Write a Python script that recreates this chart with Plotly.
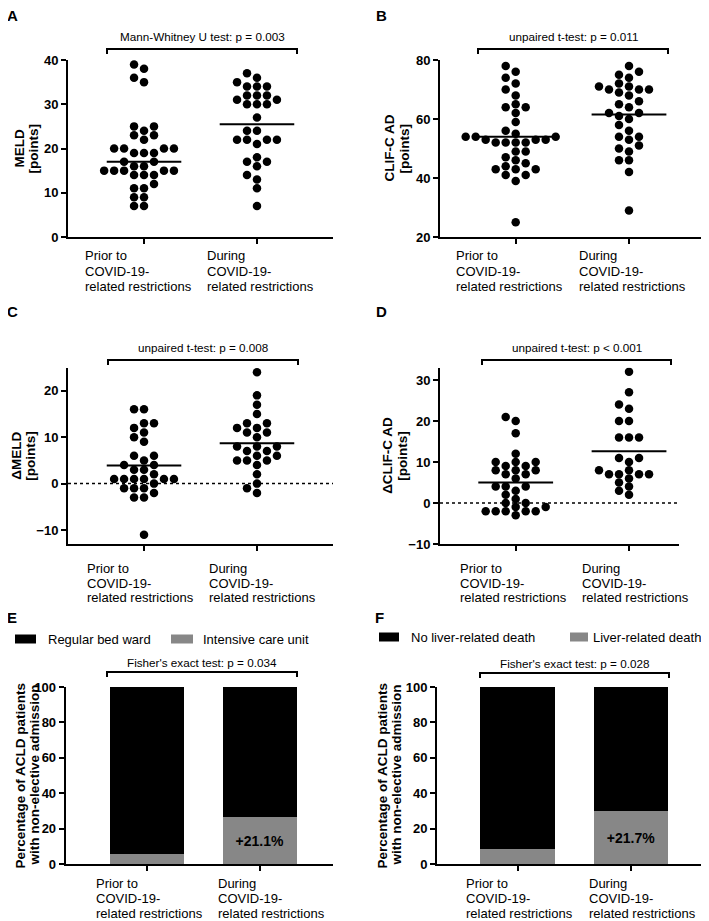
import plotly.graph_objects as go

# the page body has an 8px margin, so the figure is drawn at (8, 8)
PAGE_OFF = 8
W, H = 709 - PAGE_OFF, 921 - PAGE_OFF
FONT = 'Liberation Sans, Arial, sans-serif'
GREY = '#878787'

group_lines = [['Prior to', 'COVID-19-', 'related restrictions'],
               ['During', 'COVID-19-', 'related restrictions']]

# A: MELD (points)
meld_prior = [39, 38, 36, 35, 25, 25, 24, 23, 23, 22, 20, 20, 20, 20, 19, 19, 19, 17, 17, 16,
              16, 15, 15, 15, 15, 15, 14, 14, 14, 12, 11, 11, 9, 9, 7, 7]
meld_during = [37, 36, 35, 34, 34, 34, 32, 32, 32, 31, 31, 30, 30, 30, 27, 24, 24, 22, 22, 22,
               22, 21, 18, 17, 17, 16, 14, 13, 11, 7]
meld_center = [17, 25.5]

# B: CLIF-C AD (points)
clif_prior = [78, 76, 74, 72, 70, 68, 65, 64, 64, 62, 59, 56, 55, 54, 54, 54, 53, 53, 53, 52,
              52, 52, 52, 49, 49, 47, 46, 45, 44, 43, 43, 43, 41, 41, 39, 25]
clif_during = [78, 76, 75, 74, 72, 71, 71, 70, 70, 70, 69, 68, 66, 65, 64, 62, 62, 61, 60, 58,
               56, 54, 54, 53, 51, 50, 49, 46, 46, 42, 29]
clif_center = [54, 61.5]

# C: delta MELD
dmeld_prior = [16, 16, 13, 13, 12, 11, 10, 9, 6, 6, 5, 4, 4, 3, 3, 2, 1, 1, 1, 1, 1, 1, 0,
               -1, -1, -1, -2, -3, -3, -11]
dmeld_during = [24, 19, 17, 15, 13, 13, 12, 12, 11, 11, 10, 8, 8, 8, 7, 7, 6, 6, 5, 5, 5, 4,
                2, 0, -1, -2]
dmeld_center = [3.9, 8.7]

# D: delta CLIF-C AD
dclif_prior = [21, 20, 17, 12, 10, 10, 10, 9, 9, 8, 8, 8, 7, 7, 6, 4, 4, 4, 3, 2, 1, 0, 0,
               -1, -1, -2, -2, -2, -2, -2, -3]
dclif_during = [32, 27, 24, 23, 20, 20, 16, 16, 16, 11, 11, 10, 8, 8, 7, 7, 7, 7, 6, 5, 4, 3, 2]
dclif_center = [5.0, 12.6]

# E / F: percentages
icu_pct = [5.6, 26.7]
liver_death_pct = [8.3, 30.0]


def px(x):
    return (x - PAGE_OFF) / W


def py(y):
    return 1 - (y - PAGE_OFF) / H


def swarm(vals, unit_px, s=10.0, near=8.0, cat_px=113.3):
    # dots sit on a lattice (GraphPad-like), rows filled from the bottom up
    best, best_score = None, None
    order = sorted(range(len(vals)), key=lambda i: vals[i])
    for phase in (0.0, 0.5):
        cands = sorted([(k + phase) * s for k in range(-12, 13)], key=lambda c: (abs(c), c))
        placed = []
        xs = [0.0] * len(vals)
        for i in order:
            y = vals[i] * unit_px
            for c in cands:
                if all(not (abs(y - yy) < near and abs(c - xx) < s - 0.01) for yy, xx in placed):
                    break
            placed.append((y, c))
            xs[i] = c
        score = sum(abs(v) for v in xs)
        if best is None or score < best_score - 1e-6:
            best, best_score = xs, score
    return [v / cat_px for v in best]


scatter_panels = [
    dict(letter='A', let_xy=(12, 15), data=(meld_prior, meld_during), center=meld_center,
         box=(68, 333, 60, 237), xr=[-0.673, 1.673], yr=[0, 40], tv=[0, 10, 20, 30, 40],
         ylab=['MELD', '[points]'], ylab_x=(19, 33), lab_x=(83, 205), lab_y=(256, 271, 286),
         test='Mann-Whitney U test: p = 0.003', br=(107, 297, 49, 54), test_y=37),
    dict(letter='B', let_xy=(381, 15), data=(clif_prior, clif_during), center=clif_center,
         box=(440, 704, 60, 237), xr=[-0.668, 1.662], yr=[20, 80], tv=[20, 40, 60, 80],
         ylab=['CLIF-C AD', '[points]'], ylab_x=(389, 404), lab_x=(454, 577), lab_y=(256, 271, 286),
         test='unpaired t-test: p = 0.011', br=(478, 668, 49, 54), test_y=37),
    dict(letter='C', let_xy=(12, 311), data=(dmeld_prior, dmeld_during), center=dmeld_center,
         box=(68, 333, 367.5, 544), xr=[-0.673, 1.673], yr=[-13, 25], tv=[-10, 0, 10, 20],
         ylab=['\u0394MELD', '[points]'], ylab_x=(17, 31), lab_x=(85, 207), lab_y=(568, 583, 597),
         test='unpaired t-test: p = 0.008', br=(108, 298, 360, 365), test_y=347),
    dict(letter='D', let_xy=(381, 311), data=(dclif_prior, dclif_during), center=dclif_center,
         box=(440, 679, 367.7, 544), xr=[-0.668, 1.441], yr=[-10, 33], tv=[-10, 0, 10, 20, 30],
         ylab=['\u0394CLIF-C AD', '[points]'], ylab_x=(388, 403), lab_x=(458, 580), lab_y=(568, 583, 597),
         test='unpaired t-test: p < 0.001', br=(482, 671, 360, 365), test_y=347),
]

bar_panels = [
    dict(letter='E', let_xy=(12, 617), pct=icu_pct, names=['Regular bed ward', 'Intensive care unit'],
         box=(65.7, 333, 687, 864), xr=[-0.715, 1.65],
         leg=((15, 36, 46), (171, 193, 201)), leg_y=639,
         ylab_x=(20, 34), lab_x=(94, 216), lab_y=(883, 898, 913),
         test="Fisher's exact test: p = 0.034", br=(107, 297, 672, 677), test_y=662),
    dict(letter='F', let_xy=(379, 617), pct=liver_death_pct, names=['No liver-related death', 'Liver-related death'],
         box=(437, 709, 687, 864), xr=[-0.712, 1.69],
         leg=((379, 399, 409), (570, 588, 591)), leg_y=637,
         ylab_x=(382, 396), lab_x=(464, 587), lab_y=(883, 898, 913),
         test="Fisher's exact test: p = 0.028", br=(480, 669, 673, 678), test_y=663),
]

fig = go.Figure()
layout = {}
annotations = []
shapes = []


def axis_pair(n, p, tv, yr):
    x0, x1, y0, y1 = p['box']
    sx = '' if n == 1 else str(n)
    layout['xaxis' + sx] = dict(domain=[max(px(x0), 0), min(px(x1), 1)], range=p['xr'], anchor='y' + sx,
                                showline=True, linewidth=2, linecolor='black',
                                ticks='outside', tickvals=[0, 1], ticklen=5, tickwidth=2,
                                tickcolor='black', showticklabels=False, showgrid=False,
                                zeroline=False, fixedrange=True, automargin=False)
    layout['yaxis' + sx] = dict(domain=[py(y1), py(y0)], range=yr, anchor='x' + sx,
                                showline=True, linewidth=2, linecolor='black',
                                ticks='outside', tickvals=tv, ticklen=5, tickwidth=2,
                                tickcolor='black', showgrid=False, zeroline=False,
                                tickfont=dict(family=FONT, size=13, color='black', weight='bold'),
                                fixedrange=True, automargin=False)
    return sx


def common_text(p, ycenter):
    # panel letter
    annotations.append(dict(x=px(p['let_xy'][0]), y=py(p['let_xy'][1]), xref='paper', yref='paper',
                            text='<b>%s</b>' % p['letter'], showarrow=False,
                            xanchor='center', yanchor='middle',
                            font=dict(family=FONT, size=15, color='black')))
    # y-axis title, one annotation per line
    for k, line in enumerate(p['ylab']):
        annotations.append(dict(x=px(p['ylab_x'][k]), y=py(ycenter), xref='paper', yref='paper',
                                text='<b>%s</b>' % line, textangle=-90, showarrow=False,
                                xanchor='center', yanchor='middle',
                                font=dict(family=FONT, size=13.5, color='black')))
    # category labels, left aligned
    for g in range(2):
        for k, line in enumerate(group_lines[g]):
            annotations.append(dict(x=px(p['lab_x'][g]), y=py(p['lab_y'][k]), xref='paper', yref='paper',
                                    text=line, showarrow=False, xanchor='left', yanchor='middle',
                                    font=dict(family=FONT, size=13, color='black')))
    # test bracket
    bx0, bx1, bt, bb = p['br']
    shapes.append(dict(type='path', xref='paper', yref='paper',
                       path='M %f,%f L %f,%f L %f,%f L %f,%f' % (px(bx0), py(bb), px(bx0), py(bt),
                                                                 px(bx1), py(bt), px(bx1), py(bb)),
                       line=dict(color='black', width=2)))
    annotations.append(dict(x=px((bx0 + bx1) / 2), y=py(p['test_y']), xref='paper', yref='paper',
                            text=p['test'], showarrow=False, xanchor='center', yanchor='middle',
                            font=dict(family=FONT, size=11.7, color='black')))


for n, p in enumerate(scatter_panels, start=1):
    sx = axis_pair(n, p, p['tv'], p['yr'])
    x0, x1, y0, y1 = p['box']
    unit_px = (y1 - y0) / (p['yr'][1] - p['yr'][0])
    for g, vals in enumerate(p['data']):
        offs = swarm(vals, unit_px)
        fig.add_trace(go.Scatter(x=[g + o for o in offs], y=vals, mode='markers',
                                 marker=dict(color='black', size=8.5), xaxis='x' + sx, yaxis='y' + sx,
                                 showlegend=False, hoverinfo='y'))
        c = p['center'][g]
        fig.add_trace(go.Scatter(x=[g - 0.33, g + 0.33], y=[c, c], mode='lines',
                                 line=dict(color='black', width=2), xaxis='x' + sx, yaxis='y' + sx,
                                 showlegend=False, hoverinfo='skip'))
    if p['yr'][0] < 0:
        shapes.append(dict(type='line', xref='x%s domain' % sx, yref='y' + sx, x0=0, x1=1, y0=0, y1=0,
                           line=dict(color='black', width=1.5, dash='dot'), layer='below'))
    common_text(p, (y0 + y1) / 2)

for n, p in enumerate(bar_panels, start=5):
    sx = axis_pair(n, p, [0, 20, 40, 60, 80, 100], [0, 100])
    x0, x1, y0, y1 = p['box']
    gray = p['pct']
    black = [100 - v for v in gray]
    diff = gray[1] - gray[0]
    fig.add_trace(go.Bar(x=[0, 1], y=gray, width=0.66, marker=dict(color=GREY, line=dict(width=0)),
                         text=['', '<b>+%.1f%%</b>' % diff], textposition='inside',
                         insidetextanchor='middle', textangle=0,
                         textfont=dict(family=FONT, size=14, color='black'),
                         xaxis='x' + sx, yaxis='y' + sx, showlegend=False, name=p['names'][1]))
    fig.add_trace(go.Bar(x=[0, 1], y=black, width=0.66, marker=dict(color='black', line=dict(width=0)),
                         xaxis='x' + sx, yaxis='y' + sx, showlegend=False, name=p['names'][0]))
    # legend swatches
    for k, (lx0, lx1, tx) in enumerate(p['leg']):
        shapes.append(dict(type='rect', xref='paper', yref='paper', x0=px(lx0), x1=px(lx1),
                           y0=py(p['leg_y'] + 4.5), y1=py(p['leg_y'] - 4.5),
                           fillcolor='black' if k == 0 else GREY, line=dict(width=0)))
        annotations.append(dict(x=px(tx), y=py(p['leg_y']), xref='paper', yref='paper',
                                text=p['names'][k], showarrow=False, xanchor='left', yanchor='middle',
                                font=dict(family=FONT, size=13, color='black')))
    p['ylab'] = ['Percentage of ACLD patients', 'with non-elective admission']
    common_text(p, (y0 + y1) / 2)

layout.update(dict(width=W, height=H, margin=dict(l=0, r=0, t=0, b=0, autoexpand=False),
                   paper_bgcolor='white', plot_bgcolor='white', barmode='stack', bargap=0,
                   font=dict(family=FONT, color='black'),
                   annotations=annotations, shapes=shapes))
fig.update_layout(**layout)

fig.write_html('out.html')
